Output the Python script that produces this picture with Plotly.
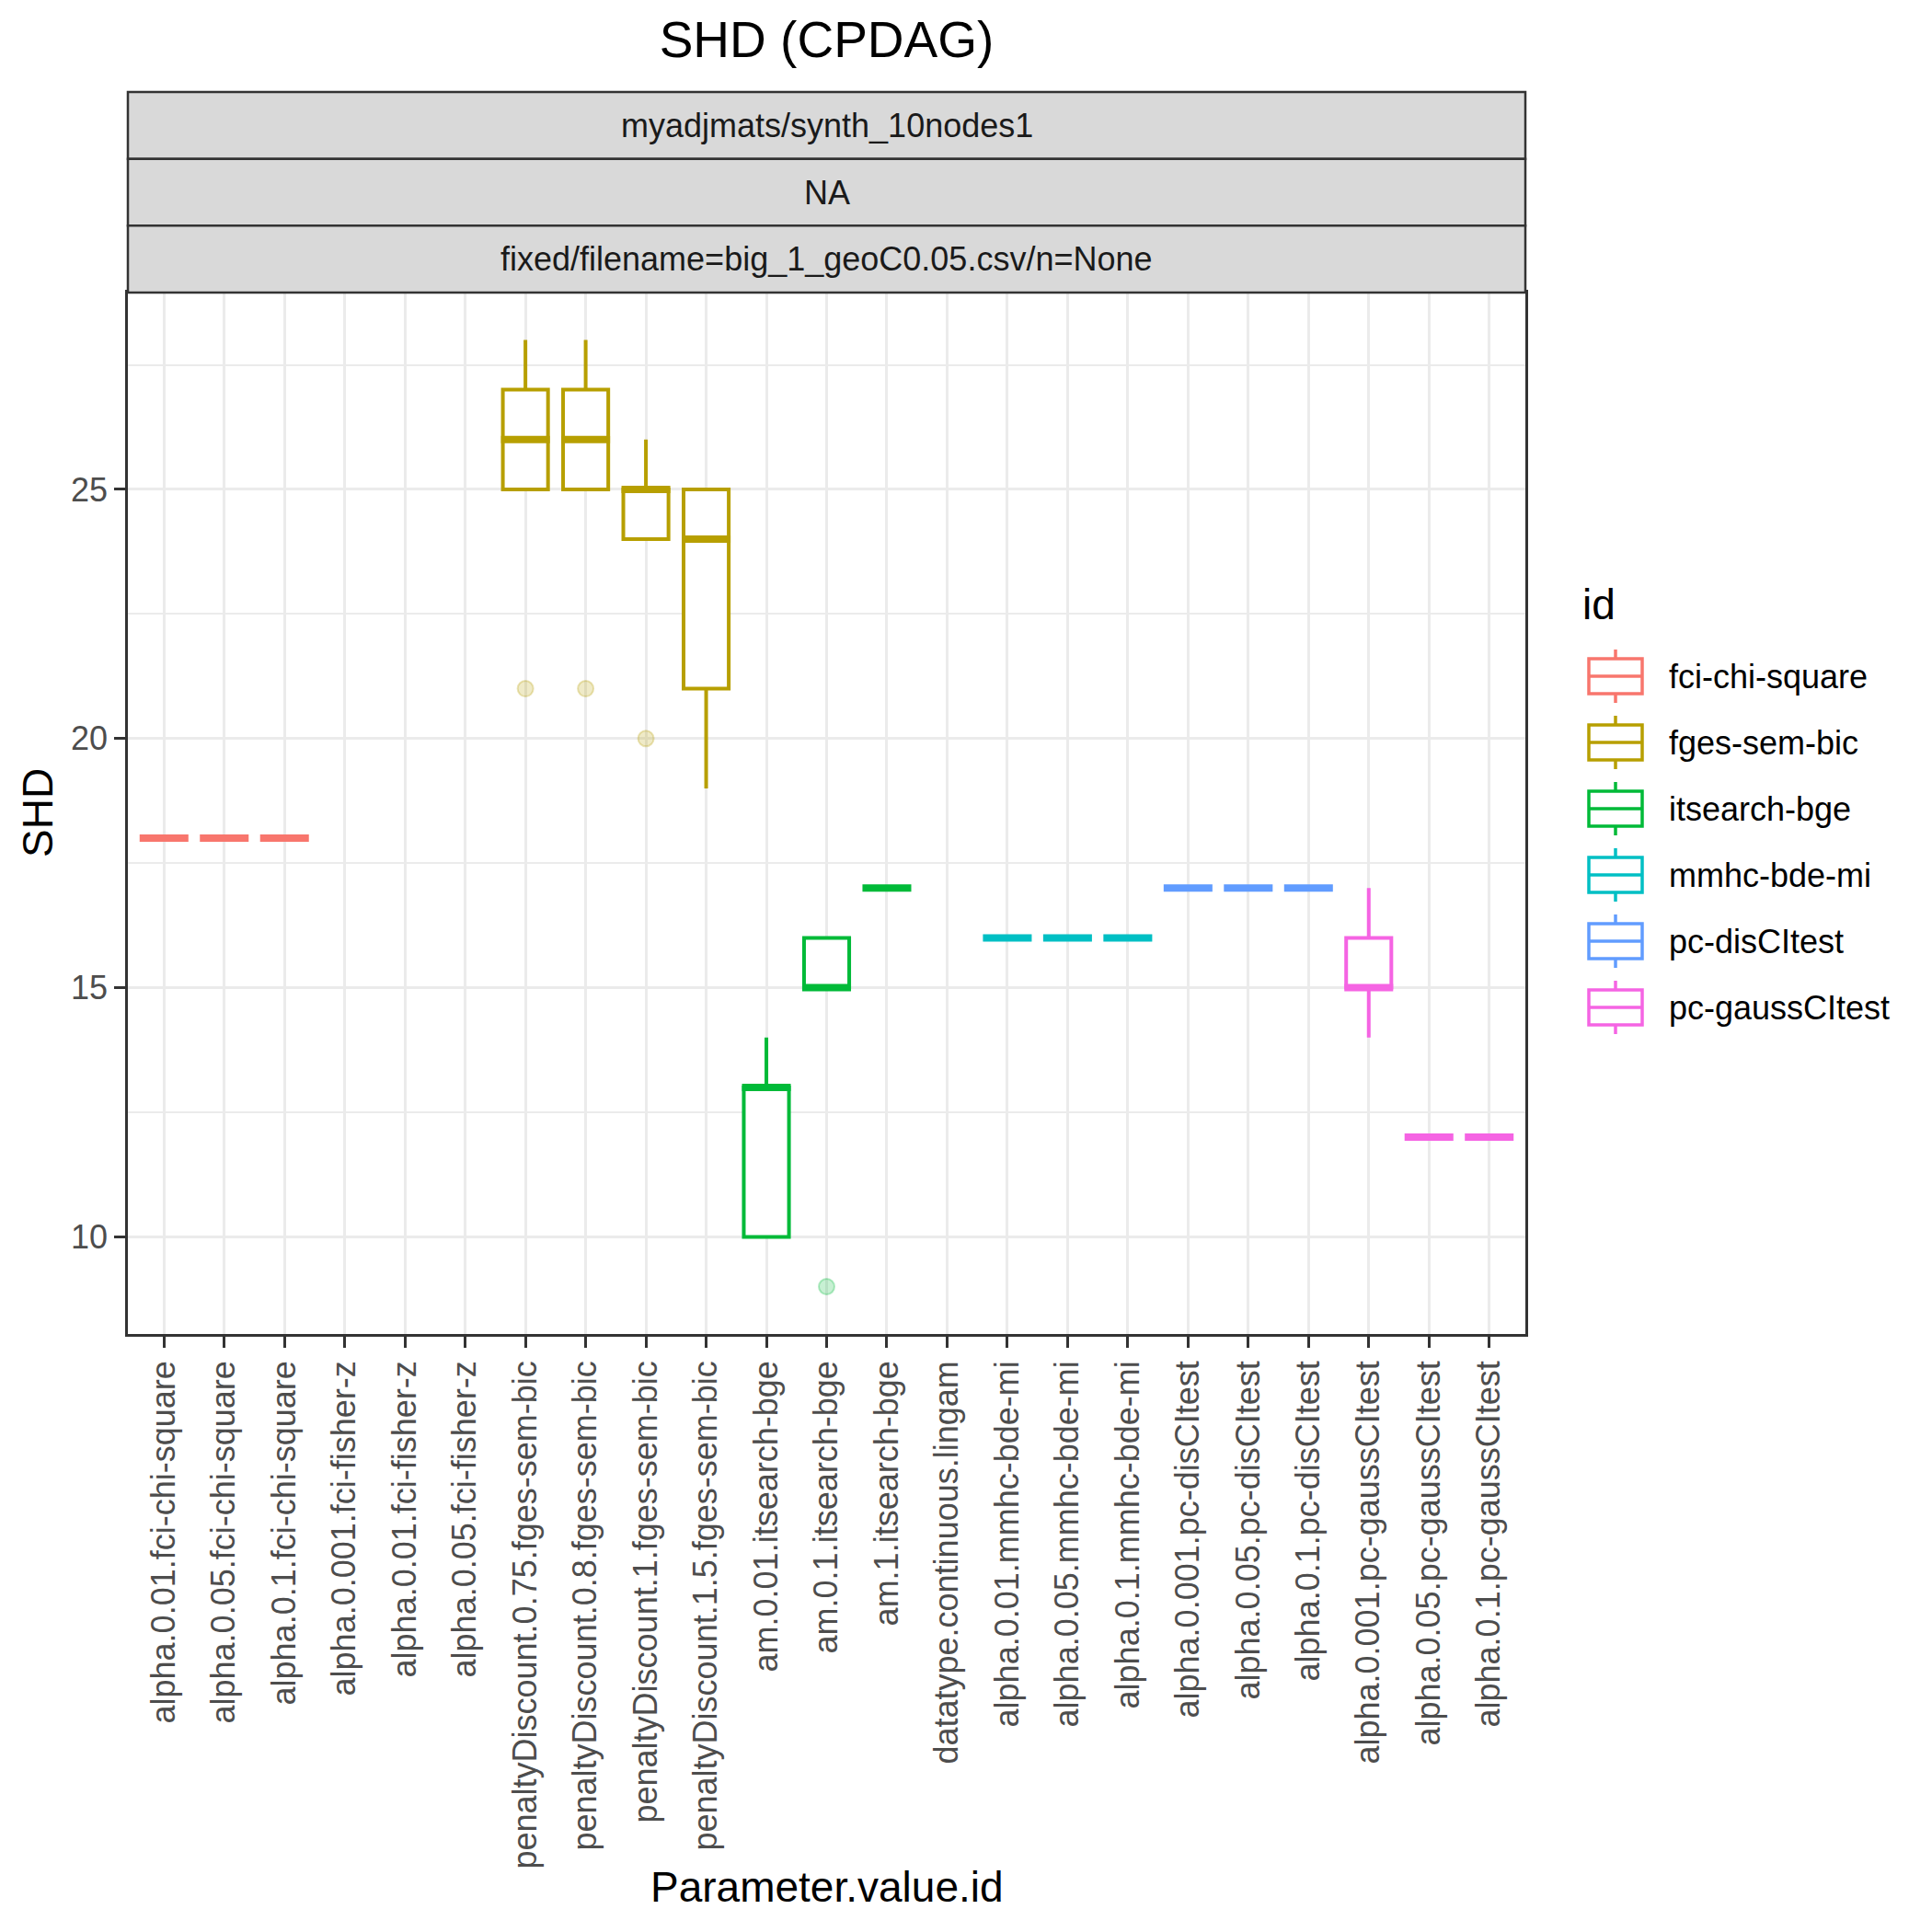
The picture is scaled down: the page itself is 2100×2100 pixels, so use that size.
import plotly.graph_objects as go

# ---------------- data ----------------
categories = [
    "alpha.0.01.fci-chi-square", "alpha.0.05.fci-chi-square", "alpha.0.1.fci-chi-square",
    "alpha.0.001.fci-fisher-z", "alpha.0.01.fci-fisher-z", "alpha.0.05.fci-fisher-z",
    "penaltyDiscount.0.75.fges-sem-bic", "penaltyDiscount.0.8.fges-sem-bic",
    "penaltyDiscount.1.fges-sem-bic", "penaltyDiscount.1.5.fges-sem-bic",
    "am.0.01.itsearch-bge", "am.0.1.itsearch-bge", "am.1.itsearch-bge",
    "datatype.continuous.lingam",
    "alpha.0.01.mmhc-bde-mi", "alpha.0.05.mmhc-bde-mi", "alpha.0.1.mmhc-bde-mi",
    "alpha.0.001.pc-disCItest", "alpha.0.05.pc-disCItest", "alpha.0.1.pc-disCItest",
    "alpha.0.001.pc-gaussCItest", "alpha.0.05.pc-gaussCItest", "alpha.0.1.pc-gaussCItest",
]
category_ids = [
    "fci-chi-square", "fci-chi-square", "fci-chi-square",
    "fci-fisher-z", "fci-fisher-z", "fci-fisher-z",
    "fges-sem-bic", "fges-sem-bic", "fges-sem-bic", "fges-sem-bic",
    "itsearch-bge", "itsearch-bge", "itsearch-bge",
    "lingam",
    "mmhc-bde-mi", "mmhc-bde-mi", "mmhc-bde-mi",
    "pc-disCItest", "pc-disCItest", "pc-disCItest",
    "pc-gaussCItest", "pc-gaussCItest", "pc-gaussCItest",
]
lower_whisker = [18, 18, 18, None, None, None, 25, 25, 24, 19, 10, 15, 17, None, 16, 16, 16, 17, 17, 17, 14, 12, 12]
q1_values     = [18, 18, 18, None, None, None, 25, 25, 24, 21, 10, 15, 17, None, 16, 16, 16, 17, 17, 17, 15, 12, 12]
median_values = [18, 18, 18, None, None, None, 26, 26, 25, 24, 13, 15, 17, None, 16, 16, 16, 17, 17, 17, 15, 12, 12]
q3_values     = [18, 18, 18, None, None, None, 27, 27, 25, 25, 13, 16, 17, None, 16, 16, 16, 17, 17, 17, 16, 12, 12]
upper_whisker = [18, 18, 18, None, None, None, 28, 28, 26, 25, 14, 16, 17, None, 16, 16, 16, 17, 17, 17, 17, 12, 12]

outlier_categories = [
    "penaltyDiscount.0.75.fges-sem-bic", "penaltyDiscount.0.8.fges-sem-bic",
    "penaltyDiscount.1.fges-sem-bic", "am.0.1.itsearch-bge",
]
outlier_values = [21, 21, 20, 9]

legend_ids = ["fci-chi-square", "fges-sem-bic", "itsearch-bge", "mmhc-bde-mi", "pc-disCItest", "pc-gaussCItest"]
legend_colors = ["#F8766D", "#B79F00", "#00BA38", "#00BFC4", "#619CFF", "#F564E3"]

strip_labels = ["myadjmats/synth_10nodes1", "NA", "fixed/filename=big_1_geoC0.05.csv/n=None"]
y_major_ticks = [10, 15, 20, 25]
y_minor_ticks = [12.5, 17.5, 22.5, 27.5]

title_text = "SHD (CPDAG)"
x_title = "Parameter.value.id"
y_title = "SHD"
legend_title = "id"

# ---------------- layout constants (page pixels) ----------------
W = H = 2100
OFF = 8  # default body margin of the html page
PL, PR, PT, PB = 139, 1658, 318, 1450
FONT = "Liberation Sans, Arial, Helvetica, sans-serif"
BOX_W = 0.75


def fx(px):
    return (px - PL) / (PR - PL)


def fy(py):
    return (PB - py) / (PB - PT)


def rgba(hexcol, a):
    h = hexcol.lstrip("#")
    r, g, b = int(h[0:2], 16), int(h[2:4], 16), int(h[4:6], 16)
    return f"rgba({r},{g},{b},{a})"


positions = list(range(1, len(categories) + 1))
pos_of = dict(zip(categories, positions))
color_of = dict(zip(legend_ids, legend_colors))

fig = go.Figure()

for gid in legend_ids:
    col = color_of[gid]
    idx = [i for i, c in enumerate(category_ids) if c == gid and q1_values[i] is not None]
    if not idx:
        continue
    fig.add_trace(go.Box(
        x=[positions[i] for i in idx],
        q1=[q1_values[i] for i in idx],
        median=[median_values[i] for i in idx],
        q3=[q3_values[i] for i in idx],
        lowerfence=[lower_whisker[i] for i in idx],
        upperfence=[upper_whisker[i] for i in idx],
        width=BOX_W, whiskerwidth=0,
        line=dict(color=col, width=4),
        fillcolor="white",
        boxpoints=False,
        showlegend=False,
        name=gid,
    ))
    # thicker median line (ggplot fatten)
    mx, my = [], []
    half = BOX_W / 2 + 0.03
    for i in idx:
        mx += [positions[i] - half, positions[i] + half, None]
        my += [median_values[i], median_values[i], None]
    fig.add_trace(go.Scatter(x=mx, y=my, mode="lines",
                             line=dict(color=col, width=8),
                             showlegend=False, hoverinfo="skip"))
    # outliers
    ox = [pos_of[c] for c, v in zip(outlier_categories, outlier_values)
          if category_ids[categories.index(c)] == gid]
    oy = [v for c, v in zip(outlier_categories, outlier_values)
          if category_ids[categories.index(c)] == gid]
    if ox:
        fig.add_trace(go.Scatter(
            x=ox, y=oy, mode="markers",
            marker=dict(size=17, color=rgba(col, 0.22),
                        line=dict(color=rgba(col, 0.28), width=2)),
            showlegend=False, name=gid,
        ))

shapes = []
annotations = []

# strips
strip_top = 100
strip_h = (PT - strip_top) / len(strip_labels)
for j, lab in enumerate(strip_labels):
    t = strip_top + j * strip_h
    b = t + strip_h
    shapes.append(dict(type="rect", xref="paper", yref="paper",
                       x0=0, x1=1, y0=fy(b), y1=fy(t),
                       fillcolor="#D9D9D9", line=dict(color="#333333", width=2.5),
                       layer="above"))
    annotations.append(dict(text=lab, xref="paper", yref="paper",
                            x=0.5, y=fy((t + b) / 2), xanchor="center", yanchor="middle",
                            showarrow=False, font=dict(family=FONT, size=36, color="#1A1A1A")))

# axis titles
annotations.append(dict(text=x_title, xref="paper", yref="paper", x=0.5, y=fy(2051),
                        xanchor="center", yanchor="middle", showarrow=False,
                        font=dict(family=FONT, size=46, color="black")))
annotations.append(dict(text=y_title, xref="paper", yref="paper", x=fx(41), y=0.5,
                        xanchor="center", yanchor="middle", showarrow=False, textangle=-90,
                        font=dict(family=FONT, size=46, color="black")))

# legend (custom, ggplot-like keys)
annotations.append(dict(text=legend_title, xref="paper", yref="paper", x=fx(1718), y=fy(657),
                        xanchor="left", yanchor="middle", showarrow=False,
                        font=dict(family=FONT, size=46, color="black")))
key_x0, key_x1 = 1727, 1785
key_cx = (key_x0 + key_x1) / 2
for k, (gid, col) in enumerate(zip(legend_ids, legend_colors)):
    cy = 735 + 72 * k
    shapes.append(dict(type="rect", xref="paper", yref="paper",
                       x0=fx(key_x0), x1=fx(key_x1), y0=fy(cy + 19), y1=fy(cy - 19),
                       fillcolor="white", line=dict(color=col, width=3.5)))
    shapes.append(dict(type="line", xref="paper", yref="paper",
                       x0=fx(key_x0), x1=fx(key_x1), y0=fy(cy), y1=fy(cy),
                       line=dict(color=col, width=3.5)))
    shapes.append(dict(type="line", xref="paper", yref="paper",
                       x0=fx(key_cx), x1=fx(key_cx), y0=fy(cy - 19), y1=fy(cy - 29),
                       line=dict(color=col, width=3.5)))
    shapes.append(dict(type="line", xref="paper", yref="paper",
                       x0=fx(key_cx), x1=fx(key_cx), y0=fy(cy + 19), y1=fy(cy + 29),
                       line=dict(color=col, width=3.5)))
    annotations.append(dict(text=gid, xref="paper", yref="paper", x=fx(1812), y=fy(cy),
                            xanchor="left", yanchor="middle", showarrow=False,
                            font=dict(family=FONT, size=36, color="black")))

fig.update_layout(
    width=W, height=H,
    margin=dict(l=PL - OFF, r=W - (PR - OFF), t=PT - OFF, b=H - (PB - OFF), pad=0),
    paper_bgcolor="white", plot_bgcolor="white",
    showlegend=False,
    title=dict(text=title_text, x=0.5, xref="paper", xanchor="center",
               y=1 - (43 - OFF) / H, yref="container", yanchor="middle",
               font=dict(family=FONT, size=55, color="black")),
    font=dict(family=FONT),
    shapes=shapes,
    annotations=annotations,
    xaxis=dict(
        range=[0.4, len(categories) + 0.6],
        tickmode="array", tickvals=positions, ticktext=categories,
        tickangle=-90,
        tickfont=dict(family=FONT, size=36, color="#4D4D4D"),
        ticks="outside", ticklen=12, tickwidth=3, tickcolor="#333333",
        showgrid=True, gridcolor="#EBEBEB", gridwidth=3.3,
        zeroline=False,
        showline=True, mirror=True, linecolor="#333333", linewidth=2.7,
    ),
    yaxis=dict(
        range=[8.05, 28.95],
        tickmode="array", tickvals=y_major_ticks,
        tickfont=dict(family=FONT, size=36, color="#4D4D4D"),
        ticks="outside", ticklen=12, tickwidth=3, tickcolor="#333333",
        showgrid=True, gridcolor="#EBEBEB", gridwidth=3.3,
        minor=dict(tickvals=y_minor_ticks, showgrid=True, gridcolor="#EBEBEB",
                   gridwidth=1.7, ticks=""),
        zeroline=False,
        showline=True, mirror=True, linecolor="#333333", linewidth=2.7,
    ),
)

fig.write_html("out.html")
